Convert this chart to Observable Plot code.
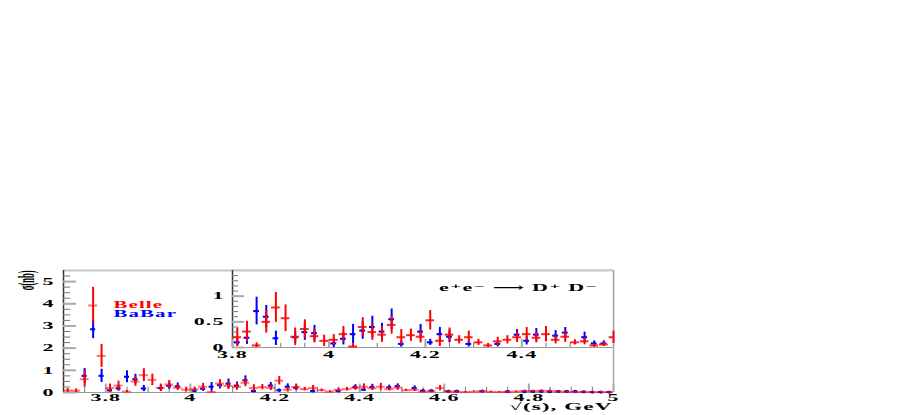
<!DOCTYPE html>
<html><head><meta charset="utf-8">
<script src="https://cdn.jsdelivr.net/npm/d3@7"></script>
<script src="https://cdn.jsdelivr.net/npm/@observablehq/plot@0.6"></script>
<style>
body{margin:0;background:#fff;}
#wrap{position:relative;width:913px;height:415px;overflow:hidden;}
#wrap svg{position:absolute;left:0;top:0;}
</style></head><body><div id="wrap"></div>
<script>
// ---------------- data ----------------
const belleE = [3.71,3.73,3.75,3.77,3.79,3.81,3.83,3.85,3.87,3.89,3.91,3.93,3.95,3.97,3.99,4.01,4.03,4.05,4.07,4.09,4.11,4.13,4.15,4.17,4.19,4.21,4.23,4.25,4.27,4.29,4.31,4.33,4.35,4.37,4.39,4.41,4.43,4.45,4.47,4.49,4.51,4.53,4.55,4.57,4.59,4.61,4.63,4.65,4.67,4.69,4.71,4.73,4.75,4.77,4.79,4.81,4.83,4.85,4.87,4.89,4.91,4.93,4.95,4.97,4.99];
const belleV = [0.09,0.08,0.60,3.92,1.65,0.20,0.31,0.04,0.50,0.78,0.57,0.21,0.36,0.22,0.13,0.15,0.26,0.02,0.40,0.30,0.25,0.44,0.20,0.24,0.21,0.53,0.13,0.25,0.15,0.20,0.10,0.04,0.12,0.15,0.20,0.26,0.19,0.26,0.15,0.21,0.10,0.12,0.04,0.06,0.20,0.05,0.03,0.02,0.04,0.06,0.03,0.02,0.03,0.04,0.07,0.06,0.08,0.07,0.05,0.03,0.02,0.03,0.02,0.02,0.02];
const belleErr = [0.09,0.08,0.36,0.82,0.52,0.18,0.20,0.05,0.22,0.29,0.26,0.17,0.18,0.13,0.11,0.10,0.15,0.05,0.18,0.16,0.15,0.18,0.15,0.12,0.12,0.19,0.11,0.13,0.08,0.12,0.06,0.04,0.08,0.08,0.10,0.13,0.10,0.15,0.08,0.11,0.05,0.07,0.03,0.04,0.12,0.04,0.03,0.03,0.03,0.04,0.03,0.03,0.03,0.03,0.04,0.04,0.04,0.04,0.03,0.03,0.02,0.03,0.02,0.02,0.02];

const babarE = [3.75,3.77,3.79,3.81,3.83,3.85,3.87,3.89,3.93,3.95,3.97,4.01,4.03,4.05,4.07,4.09,4.11,4.13,4.15,4.19,4.21,4.23,4.25,4.29,4.35,4.39,4.41,4.43,4.47,4.49,4.53,4.55,4.57,4.61,4.63,4.69,4.75,4.79,4.81,4.83,4.85,4.87,4.89,4.91,4.93,4.95,4.97,4.99];
const babarV = [0.75,2.85,0.75,0.10,0.19,0.71,0.60,0.18,0.20,0.30,0.28,0.08,0.17,0.26,0.33,0.40,0.31,0.55,0.07,0.31,0.10,0.26,0.21,0.07,0.07,0.25,0.13,0.25,0.23,0.29,0.20,0.08,0.08,0.06,0.06,0.06,0.04,0.04,0.05,0.05,0.04,0.05,0.05,0.05,0.03,0.02,0.02,0.02];
const babarErr = [0.33,0.42,0.30,0.07,0.13,0.27,0.22,0.14,0.11,0.16,0.15,0.08,0.12,0.19,0.17,0.21,0.16,0.20,0.06,0.14,0.06,0.13,0.12,0.06,0.05,0.10,0.08,0.12,0.10,0.10,0.10,0.05,0.05,0.03,0.03,0.03,0.03,0.02,0.03,0.03,0.02,0.03,0.03,0.03,0.02,0.02,0.02,0.02];

const seriesNames = ["Belle", "BaBar"];
const seriesColors = ["#ff0000", "#0000ff"];

const mainXTicks = [3.8, 4.0, 4.2, 4.4, 4.6, 4.8, 5.0];
const mainXLabels = ["3.8", "4", "4.2", "4.4", "4.6", "4.8", "5"];
const mainYTicks = [0, 1, 2, 3, 4, 5];
const mainYLabels = ["0", "1", "2", "3", "4", "5"];
const insetXTicks = [3.8, 4.0, 4.2, 4.4];
const insetXLabels = ["3.8", "4", "4.2", "4.4"];
const insetYTicks = [0, 0.5, 1];
const insetYLabels = ["0", "0.5", "1"];

const reactionLabel = "e\u207Ae\u207B \u27F6 D\u207A D\u207B";
const xTitle = "\u221A(s), GeV";
const yTitle = "\u03C3(nb)";

// ---------------- helpers ----------------
const FONT = "'Liberation Serif','Times New Roman','DejaVu Serif',serif";
const belle = belleE.map((e, i) => ({e, v: belleV[i], err: belleErr[i]}));
const babar = babarE.map((e, i) => ({e, v: babarV[i], err: babarErr[i]}));

function errMarks(data, xd, yd, color, halfW, hOpacity, withDot) {
  const rows = data.filter(d => d.e >= xd[0] && d.e <= xd[1]).map(d => ({
    e: d.e, v: d.v,
    lo: Math.max(yd[0], d.v - d.err), hi: Math.min(yd[1], d.v + d.err),
    x1: Math.max(xd[0], d.e - halfW), x2: Math.min(xd[1], d.e + halfW)
  }));
  const m = [
    Plot.ruleX(rows, {x: "e", y1: "lo", y2: "hi", stroke: color, strokeWidth: 2}),
    Plot.ruleY(rows, {y: "v", x1: "x1", x2: "x2", stroke: color, strokeWidth: 2, strokeOpacity: hOpacity})
  ];
  if (withDot) m.push(Plot.dot(rows, {x: "e", y: "v", r: 1.6, fill: color, stroke: "none"}));
  return m;
}

function axisMarks(xd, yd, xMaj, xMin, yMaj, yMin, xLenMaj, xLenMin, yLenMaj, yLenMin) {
  return [
    Plot.ruleY([yd[1]], {stroke: "#c8c8c8", strokeWidth: 2}),
    Plot.ruleX([xd[1]], {stroke: "#a8a8a8", strokeWidth: 1.5}),
    Plot.ruleY([yd[0]], {stroke: "#9a9a9a", strokeWidth: 1.2}),
    Plot.ruleX([xd[0]], {stroke: "#333", strokeWidth: 1.5}),
    Plot.ruleY(yMin, {y: d => d, x1: xd[0], x2: xd[0] + yLenMin, stroke: "#777", strokeWidth: 1}),
    Plot.ruleY(yMaj, {y: d => d, x1: xd[0], x2: xd[0] + yLenMaj, stroke: "#aaa", strokeWidth: 2}),
    Plot.ruleX(xMin, {x: d => d, y1: yd[0], y2: yd[0] + xLenMin, stroke: "#777", strokeWidth: 1}),
    Plot.ruleX(xMaj, {x: d => d, y1: yd[0], y2: yd[0] + xLenMaj, stroke: "#aaa", strokeWidth: 2})
  ];
}

// stretch all text horizontally (the reference canvas is widened)
function stretch(svg, s, sRot) {
  svg.querySelectorAll("text").forEach(t => {
    const tr = t.getAttribute("transform") || "";
    const rot = /rotate/.test(tr);
    const k = rot ? sRot : s;
    if (/translate\([^)]*\)/.test(tr)) {
      t.setAttribute("transform", tr.replace(/(translate\([^)]*\))/, `$1 scale(${k},1)`));
    } else {
      const x = +(t.getAttribute("x") || 0), y = +(t.getAttribute("y") || 0);
      t.setAttribute("transform", `translate(${x},${y}) scale(${k},1) translate(${-x},${-y}) ${tr}`);
    }
    t.setAttribute("letter-spacing", rot ? "0" : "0.5px");
  });
}

const textBase = {fontFamily: FONT, fontWeight: "bold", fill: "#000", stroke: "none"};

// ---------------- main plot ----------------
const mxd = [3.7, 5.0], myd = [0, 5.5];
const main = Plot.plot({
  width: 913, height: 415,
  marginLeft: 63, marginRight: 300, marginTop: 270, marginBottom: 23,
  x: {domain: mxd, axis: null},
  y: {domain: myd, axis: null},
  style: {background: "transparent", overflow: "visible"},
  marks: [
    ...axisMarks(mxd, myd, mainXTicks, d3.range(3.75, 5.0, 0.05), mainYTicks, d3.range(0.25, 5.5, 0.25), 0.38, 0.24, 0.031, 0.017),
    ...errMarks(babar, mxd, myd, seriesColors[1], 0.006, 1, true),
    ...errMarks(belle, mxd, myd, seriesColors[0], 0.0105, 0.55, false),
    Plot.text(mainYTicks, {...textBase, x: mxd[0], y: d => d, text: (d, i) => mainYLabels[i], textAnchor: "end", dx: -9, fontSize: 10}),
    Plot.text(mainXTicks, {...textBase, x: d => d, y: myd[0], text: (d, i) => mainXLabels[i], textAnchor: "middle", dy: 5, fontSize: 10}),
    Plot.text([xTitle], {...textBase, frameAnchor: "bottom-right", text: d => d, textAnchor: "end", dy: 17.5, dx: -1, fontSize: 10.5}),
    Plot.text([yTitle], {...textBase, frameAnchor: "top-left", text: d => d, textAnchor: "end", rotate: -90, dx: -46, dy: 0, fontSize: 8.5}),
    Plot.text([seriesNames[0]], {...textBase, frameAnchor: "top-left", text: d => d, textAnchor: "start", dx: 50, dy: 31, fontSize: 9.5, fill: seriesColors[0]}),
    Plot.text([seriesNames[1]], {...textBase, frameAnchor: "top-left", text: d => d, textAnchor: "start", dx: 50, dy: 40, fontSize: 9.5, fill: seriesColors[1]})
  ]
});

// ---------------- inset ----------------
const ixd = [3.8, 4.59], iyd = [0, 1.5];
const inset = Plot.plot({
  width: 913, height: 415,
  marginLeft: 232, marginRight: 300, marginTop: 270, marginBottom: 68,
  x: {domain: ixd, axis: null},
  y: {domain: iyd, axis: null},
  style: {background: "transparent", overflow: "visible"},
  marks: [
    Plot.frame({fill: "white", stroke: "none"}),
    ...axisMarks(ixd, iyd, insetXTicks, d3.range(3.85, 4.59, 0.05), insetYTicks, d3.range(0.1, 1.5, 0.1), 0.16, 0.08, 0.025, 0.0125),
    ...errMarks(babar, ixd, iyd, seriesColors[1], 0.006, 1, true),
    ...errMarks(belle, ixd, iyd, seriesColors[0], 0.009, 0.85, false),
    Plot.text(insetYTicks, {...textBase, x: ixd[0], y: d => d, text: (d, i) => insetYLabels[i], textAnchor: "end", dx: -8, fontSize: 10}),
    Plot.text(insetXTicks, {...textBase, x: d => d, y: iyd[0], text: (d, i) => insetXLabels[i], textAnchor: "middle", dy: 7, fontSize: 10}),
    Plot.text([reactionLabel], {...textBase, frameAnchor: "top-left", text: d => d, textAnchor: "middle", dx: 286, dy: 13, fontSize: 10})
  ]
});

stretch(main, 2.2, 2.8);
stretch(inset, 2.2, 2.8);
const wrap = document.getElementById("wrap");
wrap.appendChild(main);
wrap.appendChild(inset);
</script>
</body></html>
